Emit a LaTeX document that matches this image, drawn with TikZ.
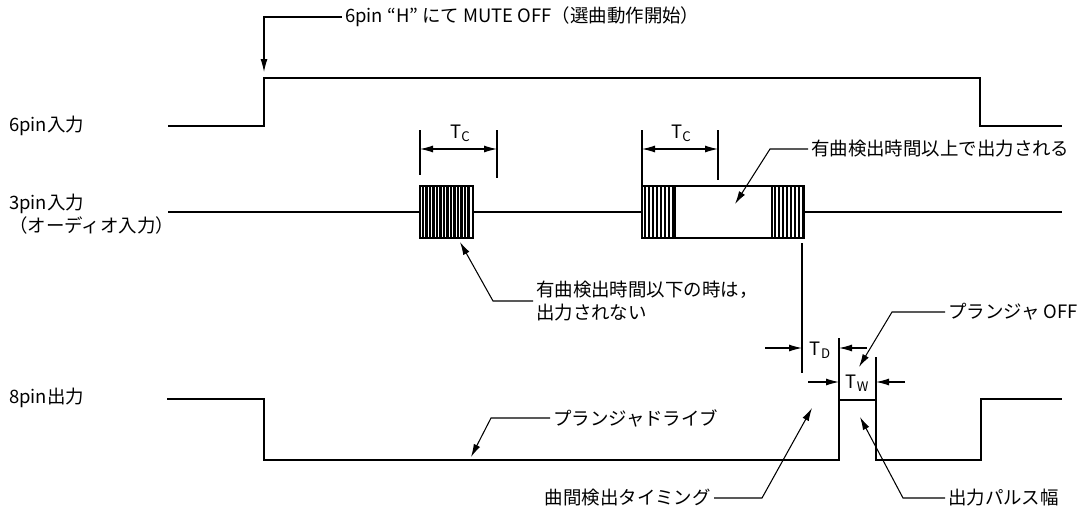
\documentclass[tikz,border=0pt]{standalone}
\usepackage{fontspec}
\setmainfont{Noto Sans CJK JP}
\usetikzlibrary{arrows.meta, positioning, calc}
\newcommand{\tlab}[1]{T\raisebox{-0.3ex}{\fontsize{7.5}{8}\selectfont #1}}
\tikzset{
  every picture/.style={line width=0.6pt},
  sig/.style={line width=1.5pt, line join=miter},
  lead/.style={-{Latex[length=2.6mm, width=1.4mm]}, line width=0.6pt},
  span/.style={{Latex[length=2.6mm, width=1.4mm]}-{Latex[length=2.6mm, width=1.4mm]}},
  lbl/.style={font=\fontsize{10.5}{13}\selectfont, inner sep=1.5pt, anchor=west, align=left},
}

\begin{document}
\begin{tikzpicture}[x=0.02cm, y=-0.02cm,
  burst/.style={draw, line width=1.3pt, minimum height=1.04cm, inner sep=0pt},
  hatch/.style={line width=#1},
  hatch/.default=1pt,
  dimlbl/.style={font=\fontsize{10.5}{12}\selectfont, inner sep=0pt}]
  \useasboundingbox (0,0) rectangle (1078,507);
  % pin labels
  \node[lbl] (p6) at (6,126) {6pin入力};
  \node[lbl] (p3) at (6,214) {3pin入力\\（オーディオ入力）};
  \node[lbl] (p8) at (6,398) {8pin出力};
  % 6pin input
  \draw[sig] (168,126) -- (264,126) -- (264,78) -- (980,78) -- (980,126) -- (1062,126);
  \node[lbl] (mute) at (342,17) {6pin “H” にて MUTE OFF（選曲動作開始）};
  \coordinate (c6) at (264,72);
  \draw[lead] (mute.west) -| (c6);
  % 3pin input
  \node[burst, minimum width=1.06cm] (b1) at (446.5,212) {};
  \node[burst, minimum width=3.24cm] (b2) at (723,212) {};
  \draw[line width=1pt] (168,212) -- (b1.west) (b1.east) -- (b2.west) (b2.east) -- (1062,212);
  \foreach \x in {423,426.5,...,471} \draw[hatch=1.3pt] (\x,186) -- (\x,238);
  \foreach \x in {645,649,...,673} \draw[hatch] (\x,186) -- (\x,238);
  \draw[hatch=0.9pt] (675,186) -- (675,238) (772,186) -- (772,238);
  \foreach \x in {775,779,...,803} \draw[hatch] (\x,186) -- (\x,238);
  % Tc
  \draw (420,130) -- (420,175) (497,130) -- (497,178);
  \draw[span] (420,149) -- (497,149);
  \node[dimlbl] (tc1) at (460,133) {\tlab{C}};
  \draw (642,130) -- (642,186) (718,130) -- (718,180);
  \draw[span] (642,149) -- (718,149);
  \node[dimlbl] (tc2) at (681,133) {\tlab{C}};
  \node[lbl] (long) at (808,149) {有曲検出時間以上で出力される};
  \coordinate (a2) at (735,204);
  \draw[lead] (long.west) -- (770,149) -- (a2);
  \node[lbl] (short) at (533,301) {有曲検出時間以下の時は，\\出力されない};
  \coordinate (a1) at (460,242);
  \draw[lead] (short.west) -- (493,301) -- (a1);
  % 8pin output
  \draw[sig] (167,399) -- (264,399) -- (264,460) -- (839,460) -- (839,400) -- (876,400)
    -- (876,460) -- (981,460) -- (981,399) -- (1062,399);
  \draw (802,243) -- (802,373) (839,338) -- (839,400) (876,357) -- (876,400);
  % Td, Tw
  \draw[lead] (765,348) -- (802,348);
  \draw[lead] (867,348) -- (839,348);
  \node[dimlbl] (td) at (820,350) {\tlab{D}};
  \draw[lead] (808,382) -- (839,382);
  \draw[lead] (905,382) -- (876,382);
  \node[dimlbl] (tw) at (857,383) {\tlab{W}};
  \node[lbl] (off) at (945,312) {プランジャ OFF};
  \coordinate (a3) at (859,367);
  \draw[lead] (off.west) -- (892,312) -- (a3);
  \node[lbl] (drive) at (550,418) {プランジャドライブ};
  \coordinate (a4) at (471,457);
  \draw[lead] (drive.west) -- (491,418) -- (a4);
  \node[lbl, anchor=east] (gap) at (714,498) {曲間検出タイミング};
  \coordinate (a5) at (812,408);
  \draw[lead] (gap.east) -- (762,498) -- (a5);
  \node[lbl] (width) at (945,498) {出力パルス幅};
  \coordinate (a6) at (860,417);
  \draw[lead] (width.west) -- (903,498) -- (a6);
\end{tikzpicture}
\end{document}
